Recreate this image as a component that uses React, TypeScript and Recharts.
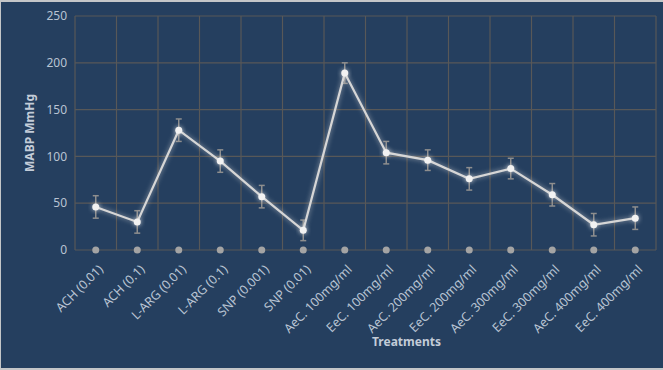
import { LineChart, Line, XAxis, YAxis, CartesianGrid, ErrorBar } from 'recharts';

const categories = [
  'ACH (0.01)',
  'ACH (0.1)',
  'L-ARG (0.01)',
  'L-ARG (0.1)',
  'SNP (0.001)',
  'SNP (0.01)',
  'AeC. 100mg/ml',
  'EeC. 100mg/ml',
  'AeC. 200mg/ml',
  'EeC. 200mg/ml',
  'AeC. 300mg/ml',
  'EeC. 300mg/ml',
  'AeC. 400mg/ml',
  'EeC. 400mg/ml',
];
const mabp = [46, 30, 128, 95, 57, 21, 189, 104, 96, 76, 87, 59, 27, 34];
const sem = [12, 12, 12, 12, 12, 11, 11, 12, 11, 12, 11, 12, 12, 12];
const baseline = [0, 0, 0, 0, 0, 0, 0, 0, 0, 0, 0, 0, 0, 0];
const yTicks = [0, 50, 100, 150, 200, 250];

const data = categories.map((name, i) => ({
  pos: i + 0.5,
  name,
  mabp: mabp[i],
  err: sem[i],
  base: baseline[i],
}));
const xTicks = data.map((d) => d.pos);
const bandEdges = [...categories.map((_, i) => i), categories.length];

const TEXT = '#b9c4d3';
const FONT = '"Noto Sans", "Open Sans", sans-serif';

function XTick({ x, y, payload }: any) {
  const label = categories[Math.floor(payload.value)];
  return (
    <g transform={`translate(${x + 5},${y + 9})`}>
      <text
        x={0}
        y={0}
        dy="0.35em"
        textAnchor="end"
        transform="rotate(-45)"
        fill={TEXT}
        fontSize={12.5}
        fontFamily={FONT}
      >
        {label}
      </text>
    </g>
  );
}

function YTitle({ viewBox }: any) {
  const cx = viewBox.x + 29;
  const cy = viewBox.y + viewBox.height / 2;
  return (
    <text
      x={cx}
      y={cy}
      transform={`rotate(-90 ${cx} ${cy})`}
      textAnchor="middle"
      dominantBaseline="central"
      fill="#c3ccd8"
      fontSize={12}
      fontWeight="bold"
      fontFamily={FONT}
    >
      MABP MmHg
    </text>
  );
}

function XTitle({ viewBox }: any) {
  const cx = viewBox.x + viewBox.width / 2 + 41;
  const cy = viewBox.y + viewBox.height - 29;
  return (
    <text
      x={cx}
      y={cy}
      textAnchor="middle"
      dominantBaseline="central"
      fill="#c3ccd8"
      fontSize={12}
      fontWeight="bold"
      fontFamily={FONT}
    >
      Treatments
    </text>
  );
}

export default function App() {
  return (
    <div
      style={{
        position: 'absolute',
        left: 0,
        top: 0,
        width: 663,
        height: 370,
        background: '#253f5f',
        boxShadow: 'inset 1px 2px 0 #c4c6c8, inset 0 -2px 0 #c4c6c8',
      }}
    >
      <style>{`body{margin:0}`}</style>
      <LineChart width={663} height={370} data={data} margin={{ top: 16, right: 7, bottom: 0, left: 0 }}>
        <defs>
          <filter id="glow" x="-50%" y="-50%" width="200%" height="200%">
            <feGaussianBlur in="SourceGraphic" stdDeviation="2.5" result="blur" />
            <feComponentTransfer in="blur" result="soft">
              <feFuncA type="linear" slope="0.7" />
            </feComponentTransfer>
            <feMerge>
              <feMergeNode in="soft" />
              <feMergeNode in="SourceGraphic" />
            </feMerge>
          </filter>
        </defs>
        <CartesianGrid
          stroke="#585858"
          strokeWidth={1.2}
          verticalCoordinatesGenerator={({ offset }: any) =>
            bandEdges.map((e) => offset.left + (offset.width * e) / categories.length)
          }
        />
        <XAxis
          dataKey="pos"
          type="number"
          domain={[0, categories.length]}
          ticks={xTicks}
          interval={0}
          height={120}
          axisLine={false}
          tickLine={false}
          tick={<XTick />}
          label={<XTitle />}
        />
        <YAxis
          domain={[0, 250]}
          ticks={yTicks}
          width={75}
          axisLine={false}
          tickLine={false}
          tickSize={6}
          tickMargin={2}
          tick={{ fill: TEXT, fontSize: 12, fontFamily: FONT }}
          label={<YTitle />}
        />
        <Line
          dataKey="base"
          stroke="none"
          dot={{ r: 3.5, fill: '#a4a4a4', stroke: 'none' }}
          activeDot={false}
          isAnimationActive={false}
        />
        <Line
          dataKey="mabp"
          stroke="#d6d6d6"
          strokeWidth={2.2}
          filter="url(#glow)"
          dot={{ r: 3.5, fill: '#f2f2f2', stroke: 'none' }}
          activeDot={false}
          isAnimationActive={false}
        >
          <ErrorBar dataKey="err" width={3} stroke="#8e8e8e" strokeWidth={1.5} direction="y" />
        </Line>
      </LineChart>
    </div>
  );
}
